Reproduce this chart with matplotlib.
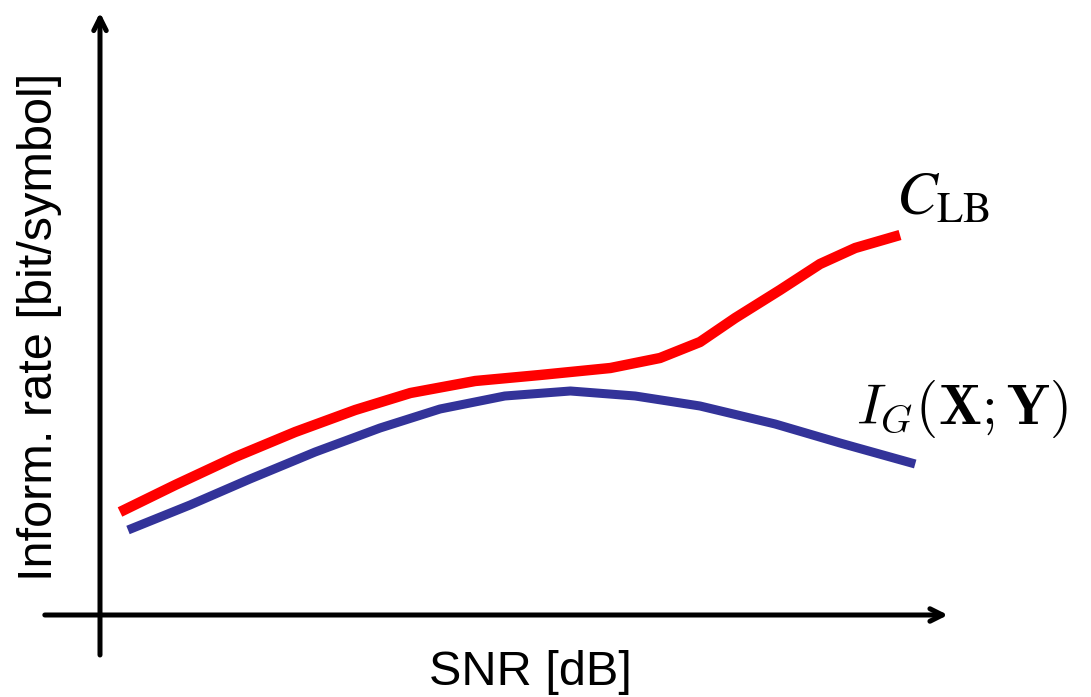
import matplotlib.pyplot as plt

# schematic curves (arbitrary units: SNR along x, rate along y)
snr_lb = [0.25, 0.94, 1.69, 2.44, 3.19, 3.88, 4.69, 5.5, 6.38, 7.0, 7.5, 7.94, 8.5, 9.0, 9.44, 10.0]
rate_lb = [2.06, 2.6, 3.16, 3.66, 4.1, 4.44, 4.68, 4.8, 4.94, 5.14, 5.46, 5.94, 6.5, 7.02, 7.34, 7.6]

snr_g = [0.35, 1.125, 1.875, 2.69, 3.5, 4.25, 5.06, 5.88, 6.69, 7.5, 8.44, 9.25, 10.19]
rate_g = [1.7, 2.2, 2.72, 3.26, 3.74, 4.12, 4.38, 4.48, 4.38, 4.18, 3.82, 3.44, 3.02]

fig = plt.figure(figsize=(10.91, 6.97), dpi=100)
ax = fig.add_axes([0, 0, 1, 1])
ax.set_xlim(-1.25, 12.3875)
ax.set_ylim(-1.64, 12.3)
ax.axis('off')

ax.plot(snr_lb, rate_lb, color='#ff0000', lw=7.5, solid_capstyle='butt')
ax.plot(snr_g, rate_g, color='#333399', lw=6.5, solid_capstyle='butt')

# axes with arrow heads
arrow = dict(arrowstyle='->,head_length=0.9,head_width=0.45', lw=3.6, color='black',
             shrinkA=0, shrinkB=0)
ax.annotate('', xy=(10.6, 0), xytext=(-0.69, 0), arrowprops=arrow)
ax.annotate('', xy=(0, 12.05), xytext=(0, -0.8), arrowprops=arrow)

ax.text(5.38, -1.15, 'SNR [dB]', fontsize=35, family='Liberation Sans',
        ha='center', va='center')
ax.text(-0.75, 5.76, 'Inform. rate [bit/symbol]', fontsize=35, family='Liberation Sans',
        rotation=90, ha='center', va='center')

ax.text(9.95, 7.75, r'$C_{\mathrm{LB}}$', fontsize=44, math_fontfamily='stix',
        ha='left', va='bottom')
ax.text(9.45, 3.5, r'$I_G(\mathbf{X};\mathbf{Y})$', fontsize=41, math_fontfamily='cm',
        ha='left', va='bottom')

fig.savefig('out.png', dpi=100)
